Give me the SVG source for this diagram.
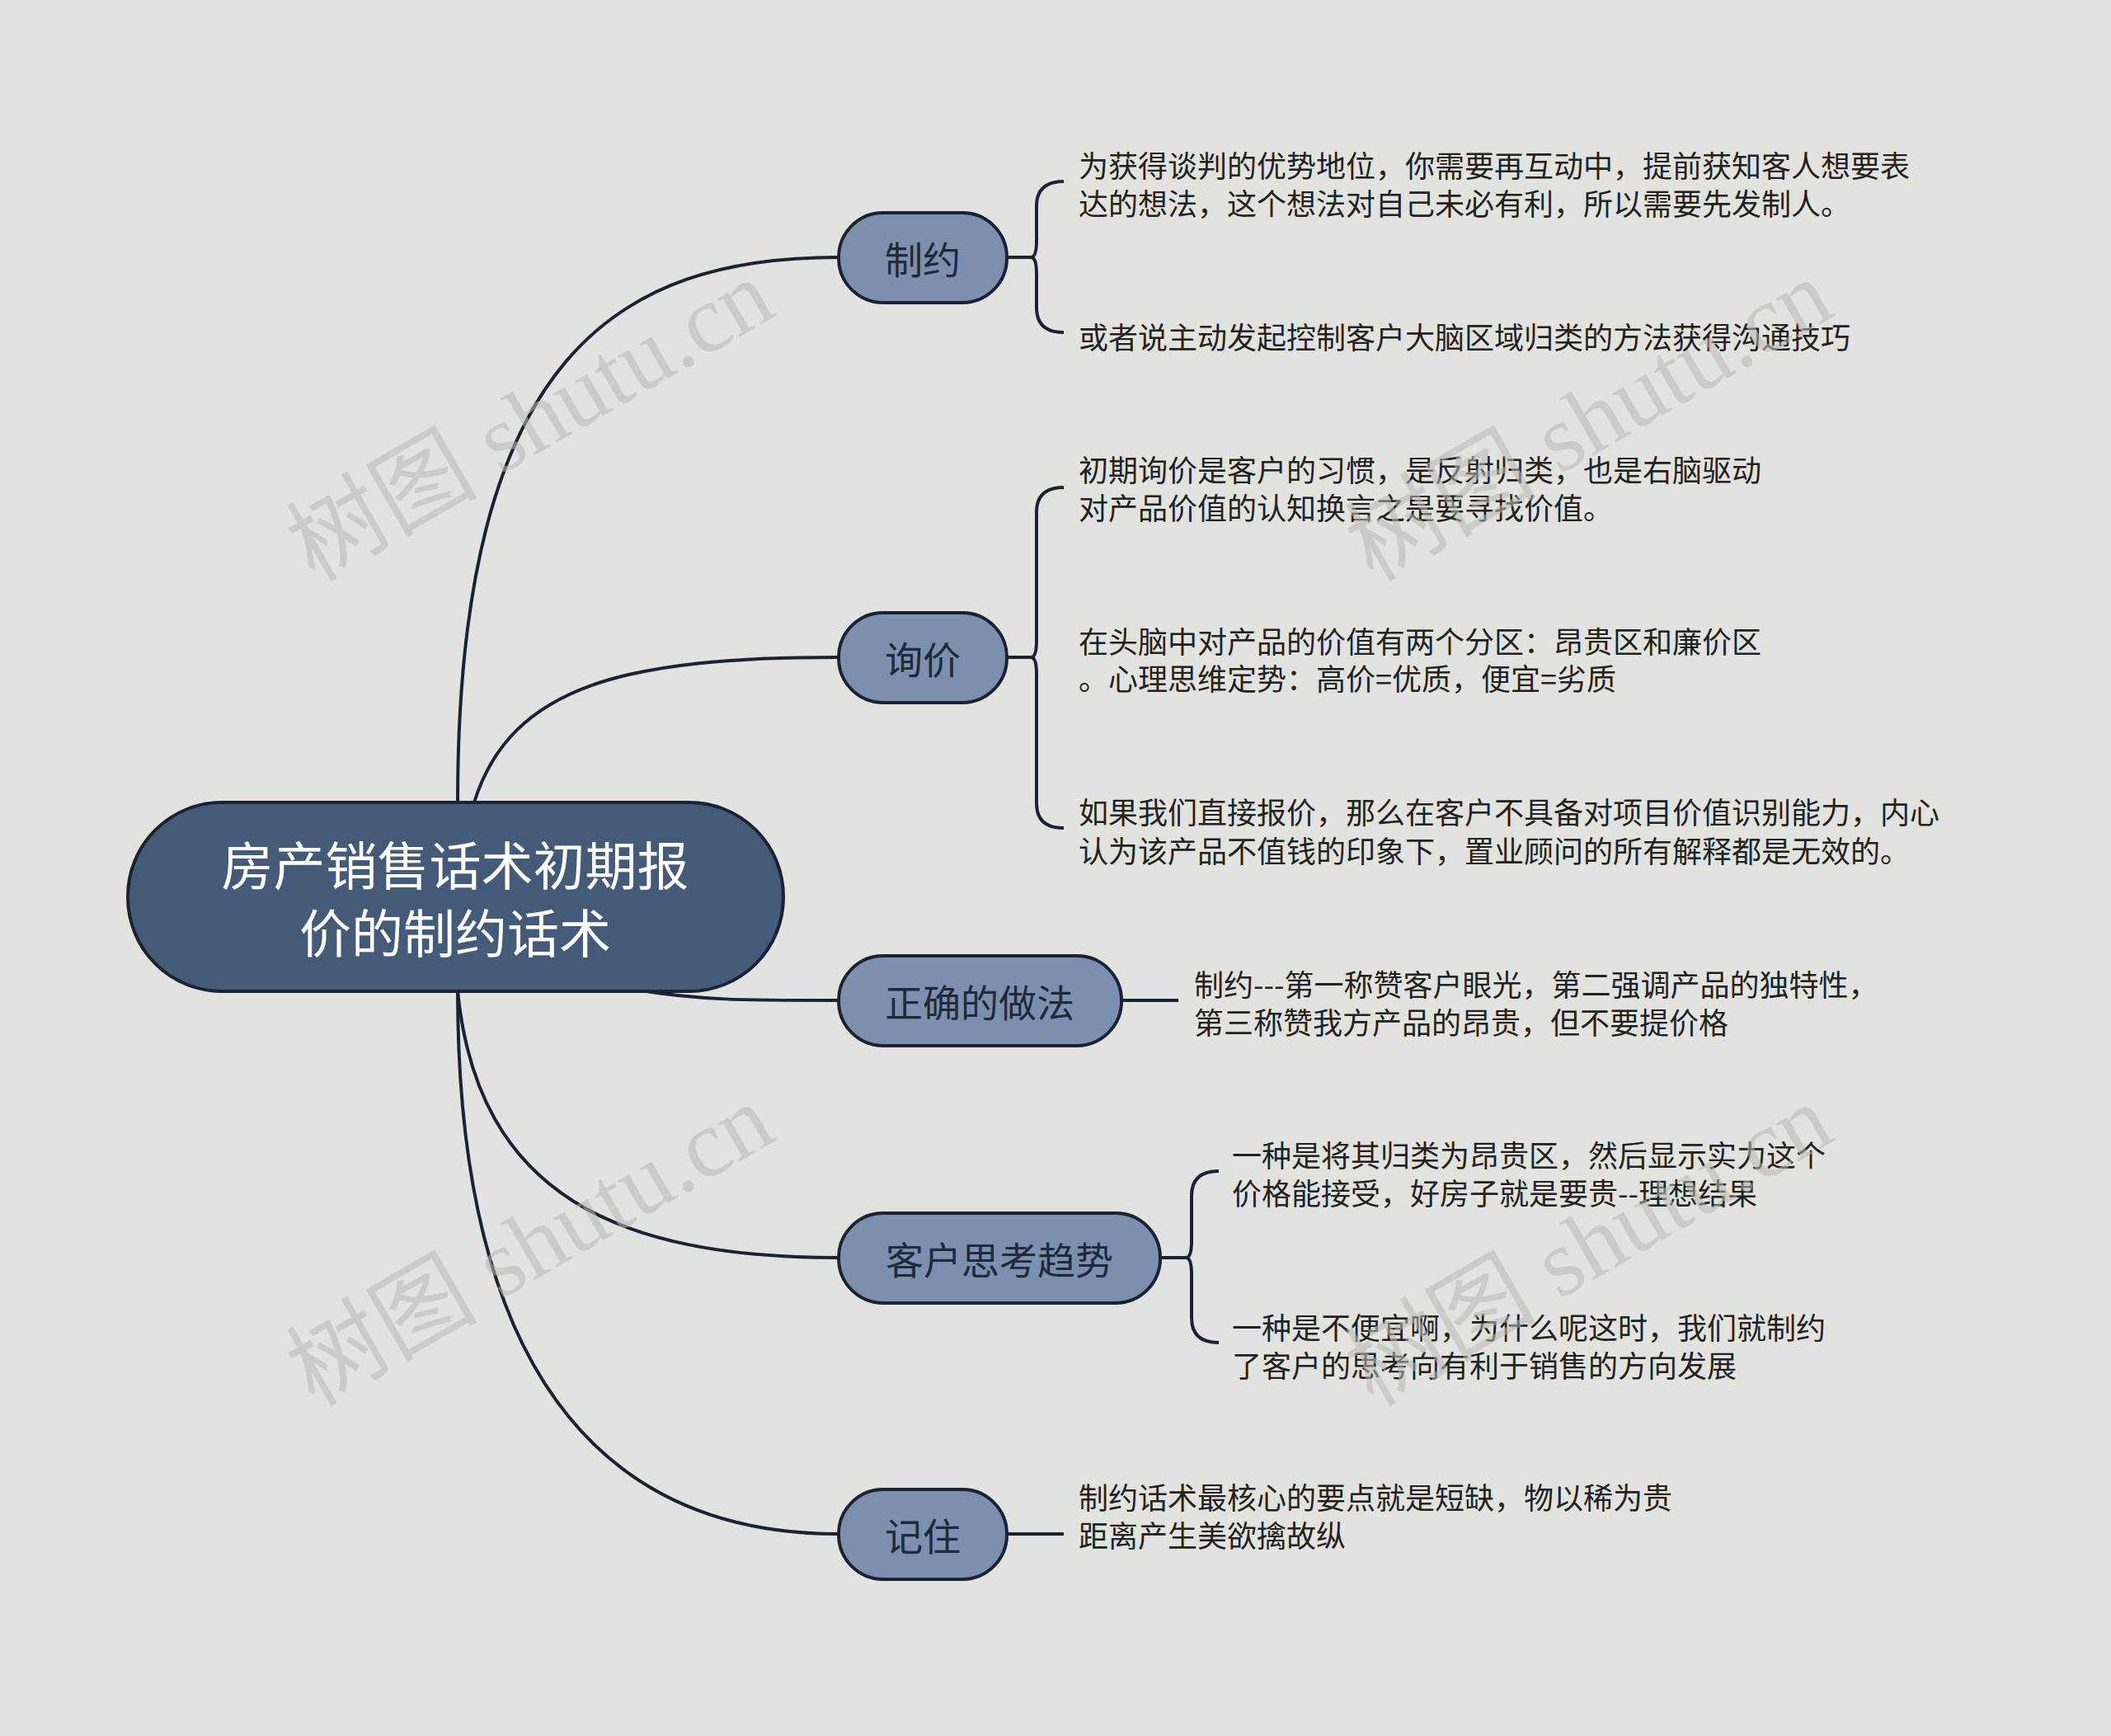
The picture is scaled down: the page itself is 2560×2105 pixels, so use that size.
<svg xmlns="http://www.w3.org/2000/svg" width="2560" height="2105" viewBox="0 0 2560 2105">
<style>
.c{fill:none;stroke:#1a2233;stroke-width:4}
.n{fill:#7b8fae;stroke:#1a2233;stroke-width:4}
.nt{font-family:"Noto Sans CJK SC",sans-serif;font-size:46px;fill:#1e2a3a;text-anchor:middle;dominant-baseline:central}
.lt{font-family:"Noto Sans CJK SC",sans-serif;font-size:36px;fill:#222;dominant-baseline:central}
.wm{font-family:"Liberation Serif","Noto Sans CJK SC",serif;font-size:116px;fill:#b9bab5;opacity:0.55;text-anchor:middle;dominant-baseline:central}
</style>
<rect width="2560" height="2105" fill="#e2e3de"/>
<g id="connectors">
<path class="c" d="M555,973 C555,430 750,312 1017,312"/>
<path class="c" d="M575,973 C620,830 760,797 1017,797"/>
<path class="c" d="M770,1200 C850,1213 900,1213 1017,1213"/>
<path class="c" d="M555,1202 C580,1450 750,1525 1017,1525"/>
<path class="c" d="M555,1202 C555,1700 760,1860 1017,1860"/>
<path class="c" d="M1221,312 H1250 M1290,220 Q1257,220 1257,250 V292 Q1257,312 1250,312 Q1257,312 1257,332 V373 Q1257,403 1290,403"/>
<path class="c" d="M1221,797 H1250 M1290,591 Q1257,591 1257,621 V777 Q1257,797 1250,797 Q1257,797 1257,817 V974 Q1257,1004 1290,1004"/>
<path class="c" d="M1360,1213 H1429"/>
<path class="c" d="M1407,1525 H1438 M1478,1420 Q1445,1420 1445,1450 V1505 Q1445,1525 1438,1525 Q1445,1525 1445,1545 V1598 Q1445,1628 1478,1628"/>
<path class="c" d="M1221,1860 H1290"/>
</g>
<g id="root">
<rect x="155" y="973" width="795" height="229" rx="114" fill="#435a78" stroke="#1a2233" stroke-width="4"/>
<text x="552" y="1045" font-family="Noto Sans CJK SC,sans-serif" font-size="63" fill="#fff" text-anchor="middle" dominant-baseline="central">房产销售话术初期报</text>
<text x="552" y="1127" font-family="Noto Sans CJK SC,sans-serif" font-size="63" fill="#fff" text-anchor="middle" dominant-baseline="central">价的制约话术</text>
</g>
<g id="n1"><rect class="n" x="1017" y="258" width="204" height="109" rx="54"/><text class="nt" x="1119" y="312">制约</text></g>
<g id="n2"><rect class="n" x="1017" y="743" width="204" height="109" rx="54"/><text class="nt" x="1119" y="797">询价</text></g>
<g id="n3"><rect class="n" x="1017" y="1159" width="343" height="109" rx="54"/><text class="nt" x="1188" y="1213">正确的做法</text></g>
<g id="n4"><rect class="n" x="1017" y="1471" width="390" height="109" rx="54"/><text class="nt" x="1212" y="1525">客户思考趋势</text></g>
<g id="n5"><rect class="n" x="1017" y="1806" width="204" height="109" rx="54"/><text class="nt" x="1119" y="1860">记住</text></g>
<g id="leaves">
<text class="lt" x="1308" y="199">为获得谈判的优势地位，你需要再互动中，提前获知客人想要表</text>
<text class="lt" x="1308" y="245">达的想法，这个想法对自己未必有利，所以需要先发制人。</text>
<text class="lt" x="1308" y="407">或者说主动发起控制客户大脑区域归类的方法获得沟通技巧</text>
<text class="lt" x="1308" y="568">初期询价是客户的习惯，是反射归类，也是右脑驱动</text>
<text class="lt" x="1308" y="614">对产品价值的认知换言之是要寻找价值。</text>
<text class="lt" x="1308" y="776">在头脑中对产品的价值有两个分区：昂贵区和廉价区</text>
<text class="lt" x="1308" y="821">。心理思维定势：高价=优质，便宜=劣质</text>
<text class="lt" x="1308" y="983">如果我们直接报价，那么在客户不具备对项目价值识别能力，内心</text>
<text class="lt" x="1308" y="1030">认为该产品不值钱的印象下，置业顾问的所有解释都是无效的。</text>
<text class="lt" x="1448" y="1192">制约---第一称赞客户眼光，第二强调产品的独特性，</text>
<text class="lt" x="1448" y="1238">第三称赞我方产品的昂贵，但不要提价格</text>
<text class="lt" x="1494" y="1399">一种是将其归类为昂贵区，然后显示实力这个</text>
<text class="lt" x="1494" y="1445">价格能接受，好房子就是要贵--理想结果</text>
<text class="lt" x="1494" y="1608">一种是不便宜啊，为什么呢这时，我们就制约</text>
<text class="lt" x="1494" y="1654">了客户的思考向有利于销售的方向发展</text>
<text class="lt" x="1308" y="1814">制约话术最核心的要点就是短缺，物以稀为贵</text>
<text class="lt" x="1308" y="1860">距离产生美欲擒故纵</text>
</g>
<g id="watermarks">
<text class="wm" transform="translate(643,510) rotate(-30)">树图 shutu.cn</text>
<text class="wm" transform="translate(1927,510) rotate(-30)">树图 shutu.cn</text>
<text class="wm" transform="translate(643,1510) rotate(-30)">树图 shutu.cn</text>
<text class="wm" transform="translate(1927,1510) rotate(-30)">树图 shutu.cn</text>
</g>
</svg>
